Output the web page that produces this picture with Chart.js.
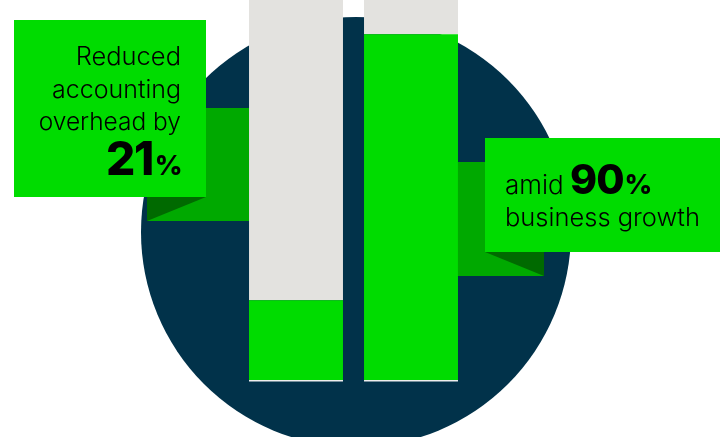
<!DOCTYPE html>
<html lang="en">
<head>
    <meta charset="UTF-8">
    <title>Accounting overhead vs business growth</title>
    <script src="https://cdn.jsdelivr.net/npm/chart.js"></script>
    <style>
        body { margin: 0; background: #fff; }
        canvas { display: block; }
    </style>
</head>
<body>
    <canvas id="chart" width="720" height="437"></canvas>
    <script>
        // --- Data ---
        const categories = ['Accounting overhead', 'Business growth'];
        const filledValues = [21, 91];
        const scaleMax = 100;
        const restValues = filledValues.map(v => scaleMax - v);

        const GREEN = '#00dc00';
        const MID_GREEN = '#00a900';
        const DARK_GREEN = '#006a00';
        const NAVY = '#01324a';
        const GREY = '#e3e2df';
        const FONT = 'Inter, "Noto Sans", sans-serif';

        // draws text pieces in a row, each with its own font
        function drawRuns(ctx, runs, x, y, align) {
            let total = 0;
            runs.forEach(r => { ctx.font = r.font; total += ctx.measureText(r.text).width + (r.gap || 0); });
            let cx = align === 'right' ? x - total : x;
            ctx.textAlign = 'left';
            runs.forEach(r => {
                ctx.font = r.font;
                ctx.fillText(r.text, cx, y);
                cx += ctx.measureText(r.text).width + (r.gap || 0);
            });
        }

        // --- Decoration: circle, ribbons, callouts ---
        const decoPlugin = {
            id: 'deco',
            beforeDatasetsDraw(chart) {
                const ctx = chart.ctx;
                const bars = chart.getDatasetMeta(0).data;
                const leftEdge = bars[0].x - bars[0].width / 2;
                const rightEdge = bars[1].x + bars[1].width / 2;
                ctx.save();
                // navy circle
                ctx.fillStyle = NAVY;
                ctx.beginPath();
                ctx.arc(356, 232, 215, 0, Math.PI * 2);
                ctx.fill();
                // left ribbon
                ctx.fillStyle = MID_GREEN;
                ctx.fillRect(147, 108, leftEdge - 147, 113);
                ctx.fillStyle = DARK_GREEN;
                ctx.beginPath();
                ctx.moveTo(147, 197); ctx.lineTo(206, 197); ctx.lineTo(147, 221);
                ctx.closePath(); ctx.fill();
                // right ribbon
                ctx.fillStyle = MID_GREEN;
                ctx.fillRect(rightEdge, 162, 544 - rightEdge, 114);
                ctx.fillStyle = DARK_GREEN;
                ctx.beginPath();
                ctx.moveTo(485, 252); ctx.lineTo(544, 252); ctx.lineTo(544, 276);
                ctx.closePath(); ctx.fill();
                ctx.restore();
            },
            afterDatasetsDraw(chart) {
                const ctx = chart.ctx;
                const bars = chart.getDatasetMeta(0).data;
                const base = chart.scales.y.getPixelForValue(0);
                ctx.save();
                // thin light baseline under the bars
                ctx.fillStyle = '#eeeeee';
                bars.forEach(b => ctx.fillRect(b.x - b.width / 2, base, b.width, 1.5));
                // callout boxes
                ctx.fillStyle = GREEN;
                ctx.fillRect(14, 20, 192, 177);
                ctx.fillRect(485, 138, 235, 114);
                ctx.fillStyle = '#000';
                ctx.textBaseline = 'alphabetic';
                drawRuns(ctx, [{ text: 'Reduced', font: '300 25.5px ' + FONT }], 181, 65, 'right');
                drawRuns(ctx, [{ text: 'accounting', font: '300 25px ' + FONT }], 181, 98, 'right');
                drawRuns(ctx, [{ text: 'overhead by', font: '300 24.5px ' + FONT }], 181, 130, 'right');
                ctx.letterSpacing = '-1.5px';
                drawRuns(ctx, [
                    { text: '21', font: '800 46px ' + FONT, gap: 2 },
                    { text: '%', font: '800 27px ' + FONT }
                ], 181, 175, 'right');
                ctx.letterSpacing = '0px';
                drawRuns(ctx, [{ text: 'amid ', font: '300 26px ' + FONT }], 505, 194, 'left');
                ctx.letterSpacing = '-1px';
                drawRuns(ctx, [
                    { text: '90', font: '800 41px ' + FONT, gap: 1 },
                    { text: '%', font: '800 27px ' + FONT }
                ], 570, 194, 'left');
                ctx.letterSpacing = '0px';
                drawRuns(ctx, [{ text: 'business growth', font: '300 25.5px ' + FONT }], 505, 226, 'left');
                ctx.restore();
            }
        };

        new Chart(document.getElementById('chart'), {
            type: 'bar',
            data: {
                labels: categories,
                datasets: [
                    { label: 'Filled', data: filledValues, backgroundColor: GREEN, borderWidth: 0 },
                    { label: 'Rest', data: restValues, backgroundColor: GREY, borderWidth: 0 }
                ]
            },
            options: {
                responsive: false,
                animation: false,
                layout: { padding: { left: 238.5, right: 251.5, top: 0, bottom: 57 } },
                datasets: { bar: { categoryPercentage: 1, barPercentage: 0.817 } },
                scales: {
                    x: { display: false, stacked: true },
                    y: { display: false, stacked: true, min: 0, max: scaleMax }
                },
                plugins: { legend: { display: false }, tooltip: { enabled: false } }
            },
            plugins: [decoPlugin]
        });
    </script>
</body>
</html>
